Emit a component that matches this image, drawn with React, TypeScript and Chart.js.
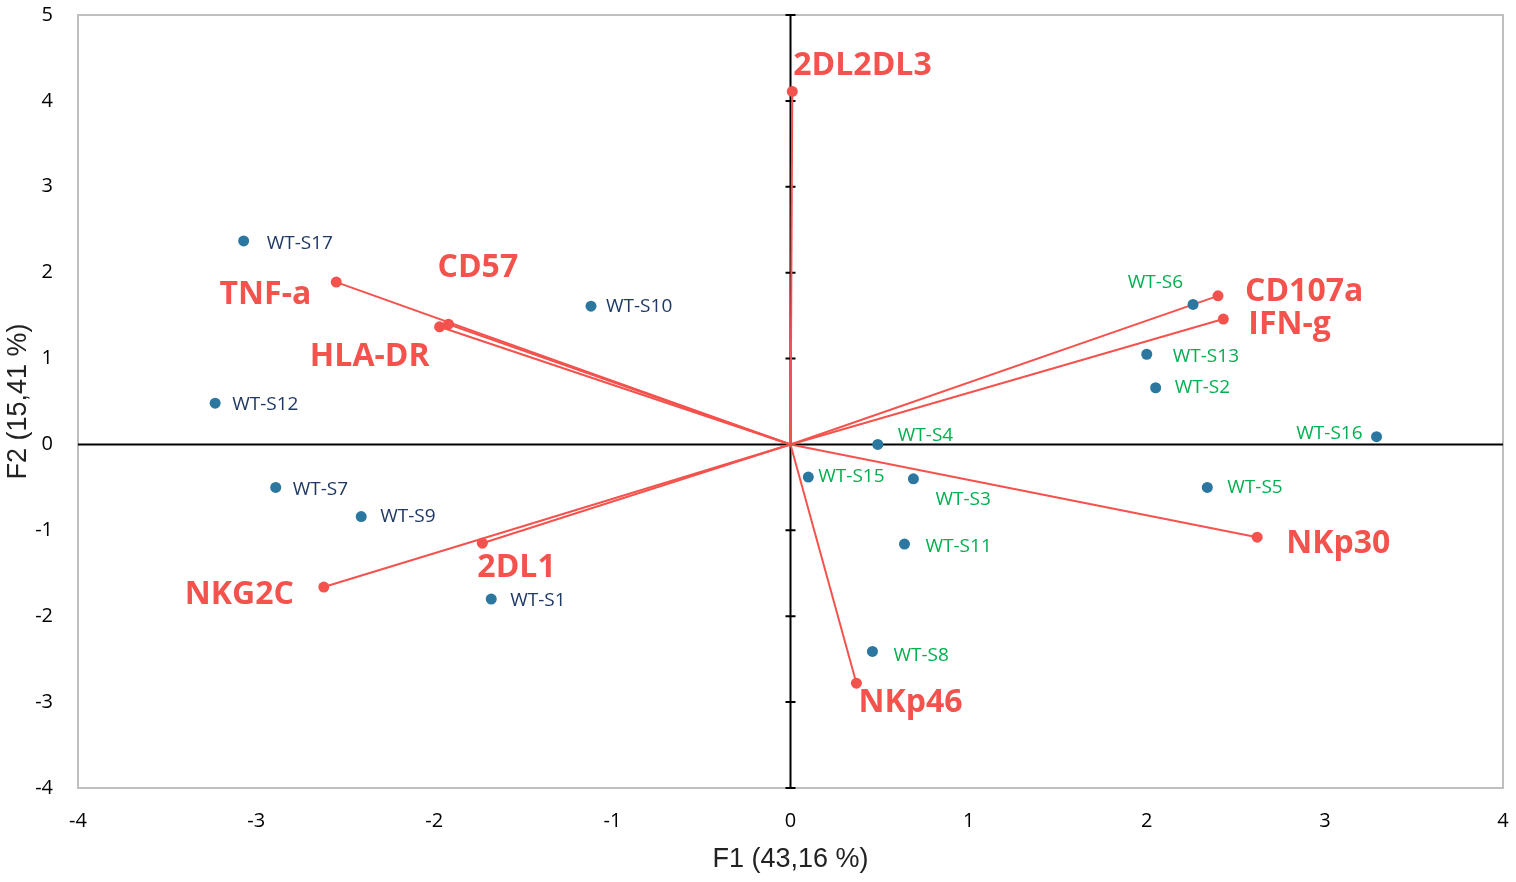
import { useRef, useEffect } from 'react'
import { Chart, registerables } from 'chart.js'

Chart.register(...registerables)

// observations (scores on F1 / F2)
const obsNames = ['WT-S17', 'WT-S10', 'WT-S12', 'WT-S7', 'WT-S9', 'WT-S1', 'WT-S6', 'WT-S13', 'WT-S2', 'WT-S4', 'WT-S16', 'WT-S15', 'WT-S3', 'WT-S5', 'WT-S11', 'WT-S8']
const obsF1 = [-3.07, -1.12, -3.23, -2.89, -2.41, -1.68, 2.26, 2.0, 2.05, 0.49, 3.29, 0.1, 0.69, 2.34, 0.64, 0.46]
const obsF2 = [2.37, 1.61, 0.48, -0.5, -0.84, -1.8, 1.63, 1.05, 0.66, 0.0, 0.09, -0.38, -0.4, -0.5, -1.16, -2.41]

// variables (loadings drawn as vectors from origin)
const varNames = ['2DL2DL3', 'TNF-a', 'CD57', 'HLA-DR', 'CD107a', 'IFN-g', 'NKp30', 'NKp46', 'NKG2C', '2DL1']
const varF1 = [0.01, -2.55, -1.92, -1.97, 2.4, 2.43, 2.62, 0.37, -2.62, -1.73]
const varF2 = [4.11, 1.89, 1.4, 1.37, 1.73, 1.46, -1.08, -2.78, -1.66, -1.15]

const xTicks = [-4, -3, -2, -1, 0, 1, 2, 3, 4]
const yTicks = [-4, -3, -2, -1, 0, 1, 2, 3, 4, 5]

// label placement in pixels: [dx, dy, align]
const obsLabelPos: [number, number, CanvasTextAlign][] = [
  [23, 3, 'left'], [15, 0, 'left'], [17, 1, 'left'], [17, 2, 'left'], [19, 0, 'left'], [19, 2, 'left'],
  [-10, -22, 'right'], [26, 2, 'left'], [19, 0, 'left'], [20, -9, 'left'], [-14, -3, 'right'],
  [10, 0, 'left'], [22, 21, 'left'], [20, 0, 'left'], [21, 3, 'left'], [21, 4, 'left'],
]
const varLabelPos: [number, number, CanvasTextAlign][] = [
  [1, -26, 'left'], [-25, 13, 'right'], [-11, -56, 'left'], [-10, 30, 'right'], [27, -4, 'left'],
  [25, 6, 'left'], [29, 7, 'left'], [2, 20, 'left'], [-30, 8, 'right'], [-5, 25, 'left'],
]

const RED = '#f4524d'
const DOT = '#2b77a0'
const NAVY = '#1f3864'
const GREEN = '#00b050'
const TICK_FONT = { family: 'Open Sans', size: 20 }
const TITLE_FONT = { family: 'Liberation Sans, Arial', size: 27 }

const biplotPlugin = {
  id: 'biplot',
  beforeDatasetsDraw(chart: any) {
    const { ctx, chartArea: a, scales } = chart
    const x0 = scales.x.getPixelForValue(0)
    const y0 = scales.y.getPixelForValue(0)
    ctx.save()
    ctx.strokeStyle = '#bfbfbf'
    ctx.lineWidth = 2
    ctx.strokeRect(a.left, a.top, a.right - a.left, a.bottom - a.top)
    ctx.strokeStyle = '#000'
    ctx.lineWidth = 2
    ctx.beginPath()
    ctx.moveTo(a.left, y0)
    ctx.lineTo(a.right, y0)
    ctx.moveTo(x0, a.top)
    ctx.lineTo(x0, a.bottom)
    for (const t of yTicks) {
      const py = scales.y.getPixelForValue(t)
      ctx.moveTo(x0 - 5, py)
      ctx.lineTo(x0 + 5, py)
    }
    ctx.stroke()
    ctx.restore()
  },
  afterDatasetsDraw(chart: any) {
    const { ctx, scales } = chart
    ctx.save()
    ctx.textBaseline = 'middle'
    ctx.font = '19px "Open Sans"'
    obsNames.forEach((name, i) => {
      const [dx, dy, align] = obsLabelPos[i]
      ctx.fillStyle = obsF1[i] < 0 ? NAVY : GREEN
      ctx.textAlign = align
      ctx.fillText(name, scales.x.getPixelForValue(obsF1[i]) + dx, scales.y.getPixelForValue(obsF2[i]) + dy)
    })
    ctx.font = 'bold 32px "Open Sans"'
    ctx.fillStyle = RED
    varNames.forEach((name, i) => {
      const [dx, dy, align] = varLabelPos[i]
      ctx.textAlign = align
      ctx.fillText(name, scales.x.getPixelForValue(varF1[i]) + dx, scales.y.getPixelForValue(varF2[i]) + dy)
    })
    ctx.restore()
  },
}

function Biplot() {
  const canvasRef = useRef<HTMLCanvasElement>(null)
  const chartRef = useRef<Chart | null>(null)

  useEffect(() => {
    if (!canvasRef.current) return
    chartRef.current?.destroy()

    const vectorSets = varNames.map((name, i) => ({
      type: 'line' as const,
      label: name,
      data: [{ x: 0, y: 0 }, { x: varF1[i], y: varF2[i] }],
      borderColor: RED,
      borderWidth: 2,
      backgroundColor: RED,
      pointRadius: [0, 5.5],
      pointBorderWidth: 0,
      showLine: true,
      order: 2,
    }))

    chartRef.current = new Chart(canvasRef.current, {
      type: 'scatter',
      data: {
        datasets: [
          {
            label: 'Observations',
            data: obsF1.map((x, i) => ({ x, y: obsF2[i] })),
            backgroundColor: DOT,
            borderWidth: 0,
            pointRadius: 5.5,
            order: 1,
          },
          ...vectorSets,
        ] as any,
      },
      options: {
        responsive: false,
        animation: false,
        devicePixelRatio: 1,
        layout: { padding: { left: 0, top: 15, right: 13, bottom: 0 } },
        plugins: { legend: { display: false }, tooltip: { enabled: false } },
        scales: {
          x: {
            type: 'linear',
            min: -4,
            max: 4,
            afterBuildTicks: (s: any) => { s.ticks = xTicks.map((v) => ({ value: v })) },
            afterFit: (s: any) => { s.height = 94; s.paddingLeft = 0; s.paddingRight = 0 },
            ticks: { font: TICK_FONT, color: '#000', padding: 21 },
            grid: { display: false, drawTicks: false },
            border: { display: false },
            title: { display: true, text: 'F1 (43,16 %)', font: TITLE_FONT, color: '#222', padding: { top: 0, bottom: 6 } },
          },
          y: {
            type: 'linear',
            min: -4,
            max: 5,
            afterBuildTicks: (s: any) => { s.ticks = yTicks.map((v) => ({ value: v })) },
            afterFit: (s: any) => { s.width = 78; s.paddingTop = 0; s.paddingBottom = 0 },
            ticks: { font: TICK_FONT, color: '#000', padding: 25 },
            grid: { display: false, drawTicks: false },
            border: { display: false },
            title: { display: true, text: 'F2 (15,41 %)', font: TITLE_FONT, color: '#222', padding: { top: 2, bottom: 0 } },
          },
        },
      },
      plugins: [biplotPlugin],
    })

    return () => { chartRef.current?.destroy() }
  }, [])

  return <canvas ref={canvasRef} width={1516} height={882} />
}

export default function App() {
  return (
    <div style={{ position: 'absolute', left: 0, top: 0, width: 1516, height: 882, background: '#fff' }}>
      <Biplot />
    </div>
  )
}
